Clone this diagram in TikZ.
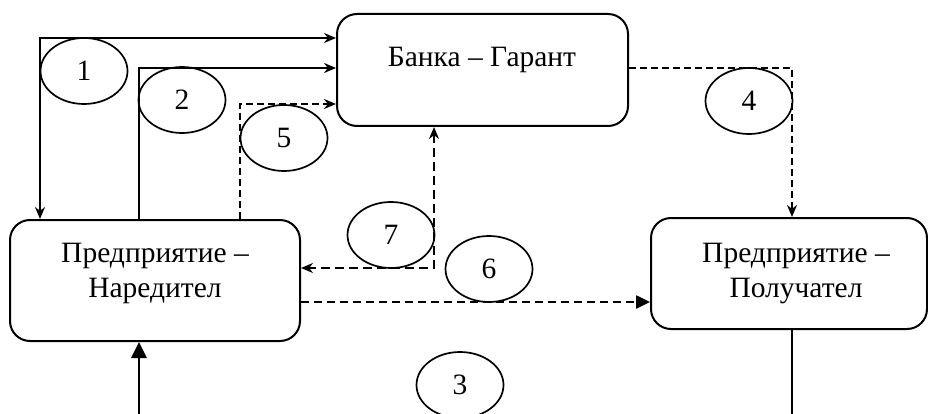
\documentclass[tikz,border=0pt]{standalone}
\usepackage{fontspec}
\setmainfont{Liberation Serif}
\usetikzlibrary{shapes.geometric, arrows.meta, positioning}

\begin{document}
\begin{tikzpicture}[
  x=1pt, y=-1pt,
  every node/.style={font=\fontsize{29.5}{35}\selectfont},
  box/.style={rectangle, rounded corners=20pt, draw=black,
              line width=2pt, inner sep=0pt},
  txt/.style={inner sep=0pt, align=center},
  num/.style={ellipse, draw=black, line width=1.7pt, inner sep=0pt,
              minimum width=87pt, minimum height=66pt},
  arrow/.style={-{Stealth[length=12pt, width=10pt]}, line width=2.5pt},
  darrow/.style={-{Stealth[length=12pt, width=10pt]}, line width=1.8pt,
                 dash pattern=on 7pt off 4pt},
  tarrow/.style={-{Triangle[length=15pt, width=14pt]}, line width=2.8pt},
]
\useasboundingbox (0,0) rectangle (928,414);

%% ── Boxes ─────────────────────────────────────────────
\node[box, minimum width=291pt, minimum height=112pt] (bank) at (482.5, 70) {};
\node[box, minimum width=290pt, minimum height=121pt] (nar)  at (155, 280.5) {};
\node[box, minimum width=276pt, minimum height=111pt] (pol)  at (789, 273.5) {};

\node[txt, anchor=base] (banktxt) at (482, 67) {Банка – Гарант};
\node[txt, anchor=north] (nartxt) at (155, 243) {Предприятие –\\Наредител};
\node[txt, anchor=north] (poltxt) at (796, 243) {Предприятие –\\Получател};

%% ── Free ends of the connectors ───────────────────────
\coordinate (c1) at (40, 38);
\coordinate (c2) at (139, 68);
\coordinate (c5) at (240, 104);
\coordinate (c4) at (792, 68);
\coordinate (c7) at (434, 268);
\coordinate (c6) at (0, 302);
\coordinate (b3l) at (139, 420);
\coordinate (b3r) at (792, 420);

%% ── Connectors ────────────────────────────────────────
\draw[arrow, {Stealth[length=12pt, width=10pt]}-{Stealth[length=12pt, width=10pt]}]
  (bank.west |- c1) -- (c1) -- (nar.north -| c1);
\draw[arrow] (nar.north -| c2) |- (bank.west |- c2);
\draw[darrow] (nar.north -| c5) |- (bank.west |- c5);
\draw[darrow] (bank.east |- c4) -| (pol.north -| c4);
\draw[darrow, line width=2.5pt, dash pattern=on 9pt off 5pt,
      {Stealth[length=12pt, width=10pt]}-{Stealth[length=12pt, width=10pt]}]
  (bank.south -| c7) |- (nar.east |- c7);
\draw[tarrow, line width=2.5pt, dash pattern=on 8pt off 5pt,
      -{Triangle[length=14pt, width=13pt]}]
  (nar.east |- c6) -- (pol.west |- c6);
\draw[tarrow, -{Triangle[length=16pt, width=15pt]}] (b3l) -- (nar.south -| b3l);
\draw[line width=1.8pt] (pol.south -| b3r) -- (b3r);

%% ── Step numbers ──────────────────────────────────────
\node[num] (n1) at (84, 71)  {1};
\node[num] (n2) at (182, 100) {2};
\node[num] (n5) at (284, 138) {5};
\node[num] (n4) at (749, 101) {4};
\node[num] (n7) at (391, 235) {7};
\node[num] (n6) at (489, 269) {6};
\node[num] (n3) at (460, 385) {3};

\end{tikzpicture}
\end{document}
